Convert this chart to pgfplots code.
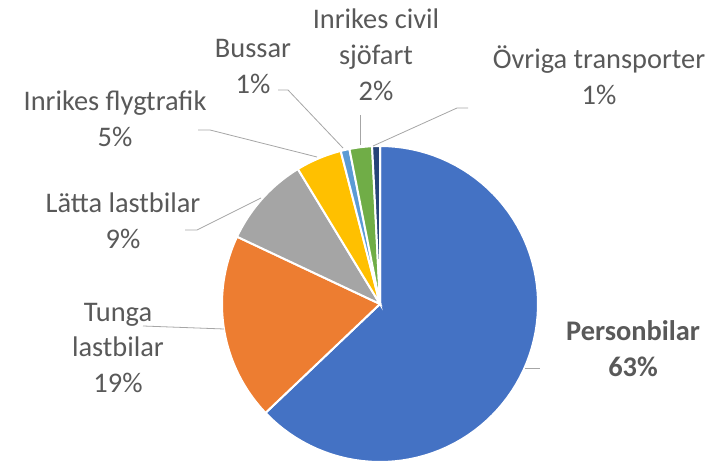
\documentclass[border=0pt]{standalone}
\usepackage{fontspec}
\setmainfont{Carlito}
\usepackage{pgfplots}
\pgfplotsset{compat=1.18}
\usepackage{pgfplotstable}

\definecolor{cBlue}{HTML}{4472C4}
\definecolor{cOrange}{HTML}{ED7D31}
\definecolor{cGray}{HTML}{A5A5A5}
\definecolor{cYellow}{HTML}{FFC000}
\definecolor{cLBlue}{HTML}{5B9BD5}
\definecolor{cGreen}{HTML}{70AD47}
\definecolor{cNavy}{HTML}{264478}
\definecolor{txt}{HTML}{595959}
\definecolor{lead}{HTML}{A6A6A6}

\pgfplotstableread{
name value
Personbilar 62.9
Tunga 19.1
Latta 9.3
Flyg 4.7
Bussar 0.9
Sjofart 2.3
Ovriga 0.8
}\pietable

\newcommand\getval[2]{\pgfplotstablegetelem{#1}{value}\of\pietable\let#2\pgfplotsretval}
\tikzset{lbl/.style={font=\fontsize{28.5}{36}\selectfont, text=txt, align=center, inner sep=0pt}}

\begin{document}
\begin{tikzpicture}
\getval{0}{\vA}\getval{1}{\vB}\getval{2}{\vC}\getval{3}{\vD}\getval{4}{\vE}\getval{5}{\vF}\getval{6}{\vG}
\pgfmathsetmacro\aA{0}
\pgfmathsetmacro\aB{\aA+3.6*\vA}
\pgfmathsetmacro\aC{\aB+3.6*\vB}
\pgfmathsetmacro\aD{\aC+3.6*\vC}
\pgfmathsetmacro\aE{\aD+3.6*\vD}
\pgfmathsetmacro\aF{\aE+3.6*\vE}
\pgfmathsetmacro\aG{\aF+3.6*\vF}
\pgfmathsetmacro\aH{\aG+3.6*\vG}
\useasboundingbox (0,0) rectangle (722bp,461bp);
\begin{axis}[at={(0,0)}, anchor=south west, width=722bp, height=461bp, scale only axis,
  xmin=0, xmax=722, ymin=0, ymax=461, hide axis, clip=false]
\pgfplotsset{slice/.style={draw=white, line width=2bp, samples=80}}
\addplot[slice, fill=cBlue,   domain=\aA:\aB] ({380+158*sin(x)},{157+158*cos(x)}) -- (380,157) -- cycle;
\addplot[slice, fill=cOrange, domain=\aB:\aC] ({380+158*sin(x)},{157+158*cos(x)}) -- (380,157) -- cycle;
\addplot[slice, fill=cGray,   domain=\aC:\aD] ({380+158*sin(x)},{157+158*cos(x)}) -- (380,157) -- cycle;
\addplot[slice, fill=cYellow, domain=\aD:\aE] ({380+158*sin(x)},{157+158*cos(x)}) -- (380,157) -- cycle;
\addplot[slice, fill=cLBlue,  domain=\aE:\aF] ({380+158*sin(x)},{157+158*cos(x)}) -- (380,157) -- cycle;
\addplot[slice, fill=cGreen,  domain=\aF:\aG] ({380+158*sin(x)},{157+158*cos(x)}) -- (380,157) -- cycle;
\addplot[slice, fill=cNavy,   domain=\aG:\aH] ({380+158*sin(x)},{157+158*cos(x)}) -- (380,157) -- cycle;

% leader lines
\pgfplotsset{leader/.style={draw=lead, line width=0.8bp}}
\addplot[leader] coordinates {(525,93) (540,93)};
\addplot[leader] coordinates {(143,135) (224,132)};
\addplot[leader] coordinates {(185,231) (197,231) (261,263)};
\addplot[leader] coordinates {(198,331) (210,331) (317,304)};
\addplot[leader] coordinates {(278,371) (288,371) (343,313)};
\addplot[leader] coordinates {(360,346) (360,316)};
\addplot[leader] coordinates {(468,353) (457,353) (373,315)};

% labels
\node[lbl] at (axis cs:633,112.5) {\textbf{Personbilar}\\\textbf{63\%}};
\node[lbl] at (axis cs:118,113) {Tunga\\lastbilar\\19\%};
\node[lbl] at (axis cs:123,240) {Lätta lastbilar\\9\%};
\node[lbl] at (axis cs:115,342.5) {Inrikes flygtrafik\\5\%};
\node[lbl] at (axis cs:253,394.5) {Bussar\\1\%};
\node[lbl] at (axis cs:376,406) {Inrikes civil\\sjöfart\\2\%};
\node[lbl] at (axis cs:599,386) {Övriga transporter\\1\%};
\end{axis}
\end{tikzpicture}
\end{document}
